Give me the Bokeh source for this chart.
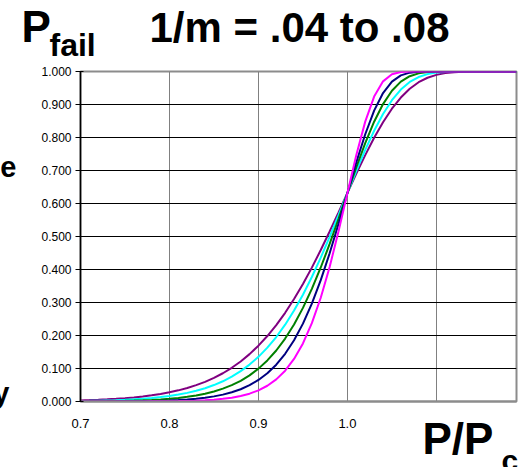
from bokeh.plotting import figure
from bokeh.models import Range1d, FixedTicker, NumeralTickFormatter
from bokeh.core.properties import value
from bokeh.embed import file_html
from bokeh.resources import INLINE

# P/Pc values (category positions along the x axis)
p_ratio = [0.70, 0.71, 0.72, 0.73, 0.74, 0.75, 0.76, 0.77, 0.78, 0.79,
           0.80, 0.81, 0.82, 0.83, 0.84, 0.85, 0.86, 0.87, 0.88, 0.89,
           0.90, 0.91, 0.92, 0.93, 0.94, 0.95, 0.96, 0.97, 0.98, 0.99,
           1.00, 1.01, 1.02, 1.03, 1.04, 1.05, 1.06, 1.07, 1.08, 1.09,
           1.10, 1.11, 1.12, 1.13, 1.14, 1.15, 1.16, 1.17, 1.18, 1.19]

# Probability of failure, one series per 1/m value
pf_008 = [0.0033, 0.0042, 0.0052, 0.0065, 0.0081, 0.0100, 0.0123, 0.0152, 0.0186, 0.0228,
          0.0278, 0.0338, 0.0409, 0.0495, 0.0596, 0.0716, 0.0856, 0.1021, 0.1213, 0.1436,
          0.1692, 0.1984, 0.2316, 0.2688, 0.3104, 0.3561, 0.4057, 0.4590, 0.5151, 0.5732,
          0.6321, 0.6904, 0.7466, 0.7990, 0.8463, 0.8873, 0.9212, 0.9478, 0.9675, 0.9811,
          0.9899, 0.9951, 0.9978, 0.9992, 0.9997, 0.9999, 1.0000, 1.0000, 1.0000, 1.0000]
pf_007 = [0.0015, 0.0019, 0.0024, 0.0032, 0.0040, 0.0052, 0.0066, 0.0083, 0.0105, 0.0133,
          0.0167, 0.0209, 0.0261, 0.0325, 0.0403, 0.0498, 0.0613, 0.0752, 0.0919, 0.1118,
          0.1353, 0.1631, 0.1954, 0.2328, 0.2755, 0.3237, 0.3773, 0.4360, 0.4989, 0.5648,
          0.6321, 0.6987, 0.7623, 0.8205, 0.8712, 0.9130, 0.9452, 0.9682, 0.9833, 0.9921,
          0.9967, 0.9988, 0.9997, 0.9999, 1.0000, 1.0000, 1.0000, 1.0000, 1.0000, 1.0000]
pf_006 = [0.0005, 0.0007, 0.0009, 0.0012, 0.0016, 0.0021, 0.0028, 0.0037, 0.0049, 0.0064,
          0.0084, 0.0109, 0.0142, 0.0184, 0.0237, 0.0304, 0.0389, 0.0495, 0.0628, 0.0793,
          0.0996, 0.1244, 0.1546, 0.1907, 0.2336, 0.2837, 0.3413, 0.4061, 0.4774, 0.5536,
          0.6321, 0.7098, 0.7830, 0.8478, 0.9013, 0.9416, 0.9692, 0.9858, 0.9944, 0.9982,
          0.9995, 0.9999, 1.0000, 1.0000, 1.0000, 1.0000, 1.0000, 1.0000, 1.0000, 1.0000]
pf_005 = [0.0001, 0.0002, 0.0002, 0.0003, 0.0004, 0.0006, 0.0009, 0.0012, 0.0017, 0.0024,
          0.0033, 0.0045, 0.0062, 0.0084, 0.0115, 0.0155, 0.0208, 0.0279, 0.0372, 0.0494,
          0.0652, 0.0856, 0.1116, 0.1445, 0.1855, 0.2359, 0.2965, 0.3678, 0.4491, 0.5384,
          0.6321, 0.7248, 0.8099, 0.8813, 0.9347, 0.9694, 0.9883, 0.9965, 0.9992, 0.9999,
          1.0000, 1.0000, 1.0000, 1.0000, 1.0000, 1.0000, 1.0000, 1.0000, 1.0000, 1.0000]
pf_004 = [0.0000, 0.0000, 0.0000, 0.0000, 0.0001, 0.0001, 0.0002, 0.0002, 0.0004, 0.0005,
          0.0008, 0.0012, 0.0017, 0.0026, 0.0038, 0.0055, 0.0080, 0.0115, 0.0166, 0.0237,
          0.0338, 0.0477, 0.0670, 0.0934, 0.1290, 0.1761, 0.2373, 0.3143, 0.4078, 0.5157,
          0.6321, 0.7471, 0.8481, 0.9239, 0.9701, 0.9915, 0.9984, 0.9998, 1.0000, 1.0000,
          1.0000, 1.0000, 1.0000, 1.0000, 1.0000, 1.0000, 1.0000, 1.0000, 1.0000, 1.0000]

series = [pf_008, pf_007, pf_006, pf_005, pf_004]
colors = ["#800080", "#00FFFF", "#008000", "#000080", "#FF00FF"]

x_label_ticks = [0.7, 0.8, 0.9, 1.0]
x_grid_ticks = [0.8, 0.9, 1.0, 1.1]
y_ticks = [0.0, 0.1, 0.2, 0.3, 0.4, 0.5, 0.6, 0.7, 0.8, 0.9, 1.0]

FONT = "Liberation Sans"

W, H = 524, 467
L, R, T, B = 80, 516, 71, 401
X0, X1 = 0.7, 1.19

p = figure(width=W, height=H, x_range=Range1d(X0, X1), y_range=Range1d(0, 1),
           output_backend="svg", toolbar_location=None,
           min_border_left=L, min_border_right=W - R,
           min_border_top=T, min_border_bottom=H - B)
p.background_fill_color = "white"
p.border_fill_color = "white"
p.outline_line_color = "#8c8c8c"
p.outline_line_width = 2

for ys, c in zip(series, colors):
    p.line(p_ratio, ys, line_color=c, line_width=2)

# axes
p.yaxis.ticker = FixedTicker(ticks=y_ticks)
p.yaxis.formatter = NumeralTickFormatter(format="0.000")
p.yaxis.axis_line_color = "black"
p.yaxis.axis_line_width = 1.5
p.yaxis.major_tick_line_color = "black"
p.yaxis.major_tick_out = 5
p.yaxis.major_tick_in = 3
p.yaxis.minor_tick_line_color = None
p.yaxis.major_label_text_font = FONT
p.yaxis.major_label_text_font_size = "12px"
p.yaxis.major_label_text_color = "black"
p.yaxis.major_label_standoff = 4

p.xaxis.ticker = FixedTicker(ticks=x_label_ticks)
p.xaxis.formatter = NumeralTickFormatter(format="0.0")
p.xaxis.axis_line_color = "#8c8c8c"
p.xaxis.axis_line_width = 2
p.xaxis.major_tick_out = 0
p.xaxis.major_tick_in = 0
p.xaxis.minor_tick_line_color = None
p.xaxis.major_label_text_font = FONT
p.xaxis.major_label_text_font_size = "13px"
p.xaxis.major_label_text_color = "black"
p.xaxis.major_label_standoff = 17

p.xgrid.ticker = FixedTicker(ticks=x_grid_ticks)
p.xgrid.grid_line_color = "#808080"
p.xgrid.grid_line_width = 1
p.ygrid.ticker = FixedTicker(ticks=y_ticks)
p.ygrid.grid_line_color = "black"
p.ygrid.grid_line_width = 1


def dx(px):
    return X0 + (px - L) * (X1 - X0) / (R - L)


def dy(py):
    return (B - py) / (B - T)


def add_text(txt, px, py, size, align="left"):
    # overlay level: drawn on top and not clipped to the plot frame;
    # py is the wanted baseline, corrected for the glyph's own vertical offset
    py = py - 0.38 * size
    p.text(x=[dx(px)], y=[dy(py)], text=[txt], text_font=value(FONT),
           text_font_style="bold", text_font_size=f"{size}px", text_align=align,
           text_baseline="alphabetic", text_color="black", level="overlay")


add_text("P", 21, 43, 44)
add_text("fail", 49, 57, 32)
add_text("1/m = .04 to .08", 149, 43, 42)
add_text("P/P", 422, 455, 44)
add_text("c", 501, 471, 30)
add_text("e", 16, 178, 29, align="right")
add_text("y", 9, 404, 29, align="right")

open("out.html", "w").write(file_html(p, INLINE))
